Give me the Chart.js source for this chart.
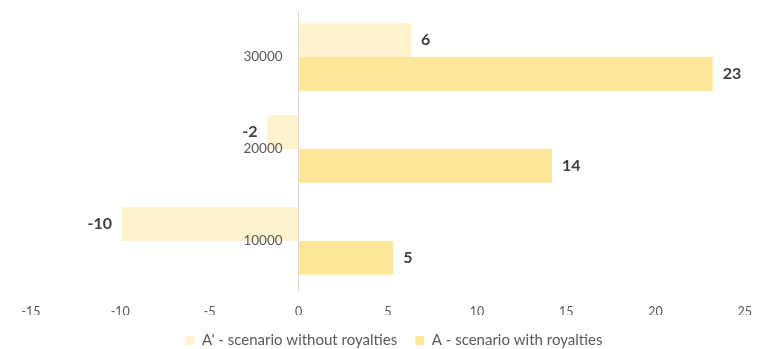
<!DOCTYPE html>
<html>
<head>
<meta charset="utf-8">
<script src="https://cdn.jsdelivr.net/npm/chart.js@4/dist/chart.umd.min.js"></script>
<style>
  html, body { margin: 0; padding: 0; background: #ffffff; }
  #wrap { width: 764px; height: 349px; }
</style>
</head>
<body>
<div id="wrap"><canvas id="c" width="764" height="349"></canvas></div>
<script>
// Royalty scenarios by volume
const categories = ['30000', '20000', '10000'];
const withoutRoyalties = [6.3, -1.75, -9.9];
const withRoyalties = [23.2, 14.2, 5.3];
const seriesNames = ["A' - scenario without royalties", 'A - scenario with royalties'];
const xTicks = { min: -15, max: 25, step: 5 };

const FONT = 'Lato, "Open Sans", "Liberation Sans", sans-serif';
const TEXT = '#595959';

// Writes each bar's rounded value just past its end
const valueLabels = {
  id: 'valueLabels',
  afterDatasetsDraw(chart) {
    const ctx = chart.ctx;
    ctx.save();
    ctx.font = 'bold 16px ' + FONT;
    ctx.fillStyle = '#404040';
    ctx.textBaseline = 'middle';
    chart.data.datasets.forEach((ds, di) => {
      const meta = chart.getDatasetMeta(di);
      meta.data.forEach((bar, i) => {
        const v = ds.data[i];
        const txt = String(Math.round(v));
        if (v >= 0) {
          ctx.textAlign = 'left';
          ctx.fillText(txt, bar.x + 10, bar.y);
        } else {
          ctx.textAlign = 'right';
          ctx.fillText(txt, bar.x - 10, bar.y);
        }
      });
    });
    ctx.restore();
  }
};

new Chart(document.getElementById('c'), {
  type: 'bar',
  data: {
    labels: categories,
    datasets: [
      {
        label: seriesNames[0],
        data: withoutRoyalties,
        backgroundColor: '#FFF2CC',
        borderWidth: 0
      },
      {
        label: seriesNames[1],
        data: withRoyalties,
        backgroundColor: '#FFE699',
        borderWidth: 0
      }
    ]
  },
  options: {
    indexAxis: 'y',
    responsive: false,
    animation: false,
    layout: { padding: { left: 31, right: 7, top: 5, bottom: -9 } },
    datasets: {
      bar: { categoryPercentage: 0.735, barPercentage: 1.0 }
    },
    scales: {
      x: {
        type: 'linear',
        min: xTicks.min,
        max: xTicks.max,
        ticks: {
          stepSize: xTicks.step,
          color: TEXT,
          font: { family: FONT, size: 12.5 },
          padding: 12
        },
        // tighter band under the tick labels
        afterFit: (scale) => { scale.height -= 16; },
        // only the zero line is visible
        grid: {
          color: (c) => (c.tick && c.tick.value === 0 ? '#D9D9D9' : 'rgba(0,0,0,0)'),
          lineWidth: 1,
          drawTicks: true,
          tickLength: 5
        },
        border: { display: false }
      },
      y: {
        type: 'category',
        // category labels sit just left of the zero line, over the bars
        position: { x: -0.9 },
        ticks: {
          z: 1,
          color: TEXT,
          font: { family: FONT, size: 13.5 }
        },
        grid: { display: false },
        border: { display: false }
      }
    },
    plugins: {
      legend: {
        position: 'bottom',
        labels: {
          boxWidth: 9,
          boxHeight: 9,
          color: TEXT,
          font: { family: FONT, size: 15 },
          padding: 18
        }
      },
      tooltip: { enabled: false }
    }
  },
  plugins: [valueLabels]
});
</script>
</body>
</html>
